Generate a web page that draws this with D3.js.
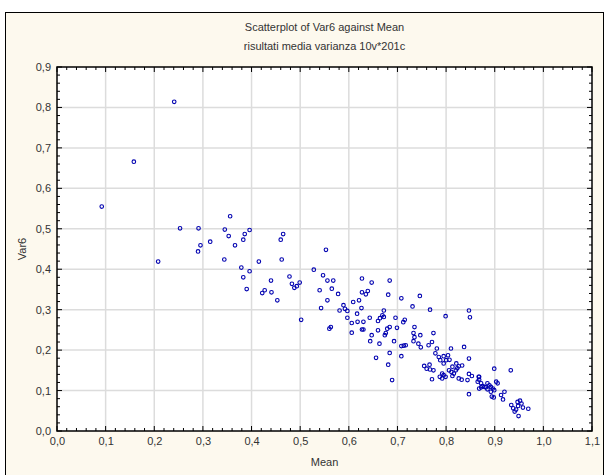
<!DOCTYPE html>
<html>
<head>
<meta charset="utf-8">
<script src="https://cdn.jsdelivr.net/npm/d3@7"></script>
<style>
  body { margin: 0; background: #fff; }
  text { font-family: "Liberation Sans", Arial, sans-serif; fill: #333; }
</style>
</head>
<body>
<script>
'use strict';

// Mean values (x)
const meanVals = [
  0.241, 0.158, 0.092, 0.356, 0.253, 0.291, 0.345, 0.396, 0.353, 0.386,
  0.383, 0.315, 0.295, 0.366, 0.290, 0.208, 0.344, 0.415, 0.379, 0.396,
  0.383, 0.390, 0.465, 0.460, 0.462, 0.553, 0.440, 0.478, 0.528, 0.483,
  0.499, 0.493, 0.427, 0.422, 0.441, 0.453, 0.547, 0.556, 0.568, 0.540,
  0.565, 0.578, 0.556, 0.502, 0.543, 0.563, 0.560, 0.627, 0.647, 0.627,
  0.639, 0.635, 0.621, 0.609, 0.589, 0.592, 0.597, 0.581, 0.626, 0.617,
  0.597, 0.606, 0.618, 0.630, 0.643, 0.660, 0.664, 0.627, 0.630, 0.606,
  0.660, 0.647, 0.644, 0.663, 0.656, 0.684, 0.488, 0.681, 0.708, 0.746,
  0.731, 0.767, 0.799, 0.672, 0.696, 0.715, 0.712, 0.679, 0.684, 0.699,
  0.733, 0.735, 0.747, 0.743, 0.693, 0.708, 0.713, 0.717, 0.684, 0.708,
  0.681, 0.689, 0.764, 0.771, 0.781, 0.778, 0.785, 0.755, 0.760, 0.766,
  0.788, 0.795, 0.792, 0.787, 0.847, 0.849, 0.669, 0.672, 0.676, 0.674,
  0.735, 0.774, 0.733, 0.748, 0.810, 0.837, 0.847, 0.795, 0.804, 0.807,
  0.800, 0.821, 0.826, 0.833, 0.823, 0.813, 0.767, 0.774, 0.795, 0.799,
  0.806, 0.811, 0.816, 0.813, 0.820, 0.847, 0.853, 0.867, 0.868, 0.826,
  0.832, 0.771, 0.792, 0.899, 0.933, 0.868, 0.865, 0.872, 0.875, 0.879,
  0.882, 0.885, 0.889, 0.892, 0.896, 0.903, 0.906, 0.899, 0.892, 0.885,
  0.872, 0.868, 0.844, 0.847, 0.894, 0.898, 0.913, 0.917, 0.920, 0.934,
  0.938, 0.941, 0.947, 0.952, 0.955, 0.948, 0.944, 0.949, 0.958, 0.969
];

// Var6 values (y), same order
const var6Vals = [
  0.814, 0.666, 0.555, 0.531, 0.501, 0.501, 0.498, 0.497, 0.482, 0.487,
  0.473, 0.468, 0.459, 0.459, 0.444, 0.419, 0.424, 0.419, 0.404, 0.395,
  0.380, 0.351, 0.487, 0.473, 0.424, 0.448, 0.372, 0.382, 0.399, 0.364,
  0.367, 0.358, 0.348, 0.341, 0.343, 0.323, 0.385, 0.372, 0.372, 0.348,
  0.352, 0.339, 0.323, 0.275, 0.304, 0.257, 0.253, 0.377, 0.367, 0.343,
  0.346, 0.338, 0.323, 0.319, 0.311, 0.302, 0.297, 0.298, 0.304, 0.290,
  0.280, 0.267, 0.270, 0.270, 0.280, 0.272, 0.279, 0.251, 0.251, 0.243,
  0.249, 0.237, 0.222, 0.216, 0.181, 0.372, 0.354, 0.337, 0.328, 0.334,
  0.308, 0.300, 0.284, 0.298, 0.280, 0.275, 0.269, 0.253, 0.257, 0.255,
  0.242, 0.232, 0.237, 0.216, 0.222, 0.210, 0.211, 0.212, 0.193, 0.185,
  0.164, 0.126, 0.212, 0.220, 0.204, 0.192, 0.183, 0.161, 0.154, 0.164,
  0.175, 0.167, 0.142, 0.134, 0.298, 0.281, 0.286, 0.282, 0.242, 0.237,
  0.257, 0.242, 0.222, 0.207, 0.204, 0.208, 0.179, 0.185, 0.187, 0.176,
  0.175, 0.167, 0.160, 0.162, 0.155, 0.159, 0.152, 0.150, 0.138, 0.134,
  0.150, 0.146, 0.142, 0.136, 0.150, 0.141, 0.136, 0.134, 0.127, 0.130,
  0.127, 0.128, 0.130, 0.154, 0.150, 0.134, 0.122, 0.118, 0.111, 0.109,
  0.108, 0.118, 0.113, 0.109, 0.105, 0.122, 0.118, 0.101, 0.097, 0.103,
  0.108, 0.105, 0.126, 0.091, 0.085, 0.083, 0.089, 0.078, 0.097, 0.064,
  0.056, 0.048, 0.072, 0.075, 0.068, 0.062, 0.053, 0.037, 0.058, 0.055
];

const xTicks = [0, 0.1, 0.2, 0.3, 0.4, 0.5, 0.6, 0.7, 0.8, 0.9, 1.0, 1.1];
const yTicks = [0, 0.1, 0.2, 0.3, 0.4, 0.5, 0.6, 0.7, 0.8, 0.9];
const titleLines = ["Scatterplot of Var6 against Mean", "risultati media varianza 10v*201c"];

const width = 606, height = 475;
const plot = {left: 57, right: 592, top: 67, bottom: 431};

const fmt = d => d3.format(".1f")(d).replace(".", ",");

const svg = d3.select('body')
  .append('svg')
  .attr('width', width)
  .attr('height', height);

// outer panel
svg.append('rect')
  .attr('x', 5.5).attr('y', 12.5)
  .attr('width', 598).attr('height', 470)
  .attr('fill', '#fdf9ee')
  .attr('stroke', '#000')
  .attr('stroke-width', 1);

const x = d3.scaleLinear().domain([0, 1.1]).range([plot.left, plot.right]);
const y = d3.scaleLinear().domain([0, 0.9]).range([plot.bottom, plot.top]);

// plot background
svg.append('rect')
  .attr('x', plot.left).attr('y', plot.top)
  .attr('width', plot.right - plot.left).attr('height', plot.bottom - plot.top)
  .attr('fill', '#fff');

// grid lines
svg.append('g')
  .selectAll('line')
  .data(xTicks.slice(1, -1))
  .enter().append('line')
    .attr('x1', d => x(d)).attr('x2', d => x(d))
    .attr('y1', plot.top).attr('y2', plot.bottom)
    .attr('stroke', '#dcdcdc').attr('stroke-width', 1.5);

svg.append('g')
  .selectAll('line')
  .data(yTicks.slice(1, -1))
  .enter().append('line')
    .attr('y1', d => y(d)).attr('y2', d => y(d))
    .attr('x1', plot.left).attr('x2', plot.right)
    .attr('stroke', '#dcdcdc').attr('stroke-width', 1.5);

// minor ticks every 0.02, major every 0.1, all pointing inward
const xMinor = d3.range(0, 1.1001, 0.02);
const yMinor = d3.range(0, 0.9001, 0.02);

function tickLen(v) {
  return Math.abs(v * 10 - Math.round(v * 10)) < 1e-6 ? 5 : 3;
}

const ticks = svg.append('g').attr('stroke', '#000').attr('stroke-width', 1);
xMinor.forEach(v => {
  ticks.append('line')
    .attr('x1', x(v)).attr('x2', x(v))
    .attr('y1', plot.bottom).attr('y2', plot.bottom - tickLen(v));
  ticks.append('line')
    .attr('x1', x(v)).attr('x2', x(v))
    .attr('y1', plot.top).attr('y2', plot.top + tickLen(v));
});
yMinor.forEach(v => {
  ticks.append('line')
    .attr('y1', y(v)).attr('y2', y(v))
    .attr('x1', plot.left).attr('x2', plot.left + tickLen(v));
  ticks.append('line')
    .attr('y1', y(v)).attr('y2', y(v))
    .attr('x1', plot.right).attr('x2', plot.right - tickLen(v));
});

// tick labels through the library axes
const xAxis = svg.append('g')
  .attr('transform', 'translate(0,' + plot.bottom + ')')
  .call(d3.axisBottom(x).tickValues(xTicks).tickSize(0).tickPadding(6).tickFormat(fmt));
xAxis.select('.domain').remove();

const yAxis = svg.append('g')
  .attr('transform', 'translate(' + plot.left + ',0)')
  .call(d3.axisLeft(y).tickValues(yTicks).tickSize(0).tickPadding(6).tickFormat(fmt));
yAxis.select('.domain').remove();

svg.selectAll('.tick text')
  .style('font-size', '11px')
  .style('fill', '#333');

// points
svg.append('g')
  .selectAll('circle')
  .data(meanVals.map((m, i) => [m, var6Vals[i]]))
  .enter().append('circle')
    .attr('cx', d => x(d[0]))
    .attr('cy', d => y(d[1]))
    .attr('r', 1.8)
    .attr('fill', 'none')
    .attr('stroke', '#0000b0')
    .attr('stroke-width', 1.1);

// plot frame
svg.append('rect')
  .attr('x', plot.left).attr('y', plot.top)
  .attr('width', plot.right - plot.left).attr('height', plot.bottom - plot.top)
  .attr('fill', 'none')
  .attr('stroke', '#000')
  .attr('stroke-width', 1.5);

// titles
svg.selectAll('.title')
  .data(titleLines)
  .enter().append('text')
    .attr('class', 'title')
    .attr('x', (plot.left + plot.right) / 2)
    .attr('y', (d, i) => 31 + i * 19)
    .attr('text-anchor', 'middle')
    .style('font-size', '11px')
    .text(d => d);

svg.append('text')
  .attr('x', (plot.left + plot.right) / 2)
  .attr('y', 466)
  .attr('text-anchor', 'middle')
  .style('font-size', '11px')
  .text('Mean');

svg.append('text')
  .attr('transform', 'translate(26,' + ((plot.top + plot.bottom) / 2) + ')rotate(-90)')
  .attr('text-anchor', 'middle')
  .style('font-size', '11px')
  .text('Var6');
</script>
</body>
</html>
